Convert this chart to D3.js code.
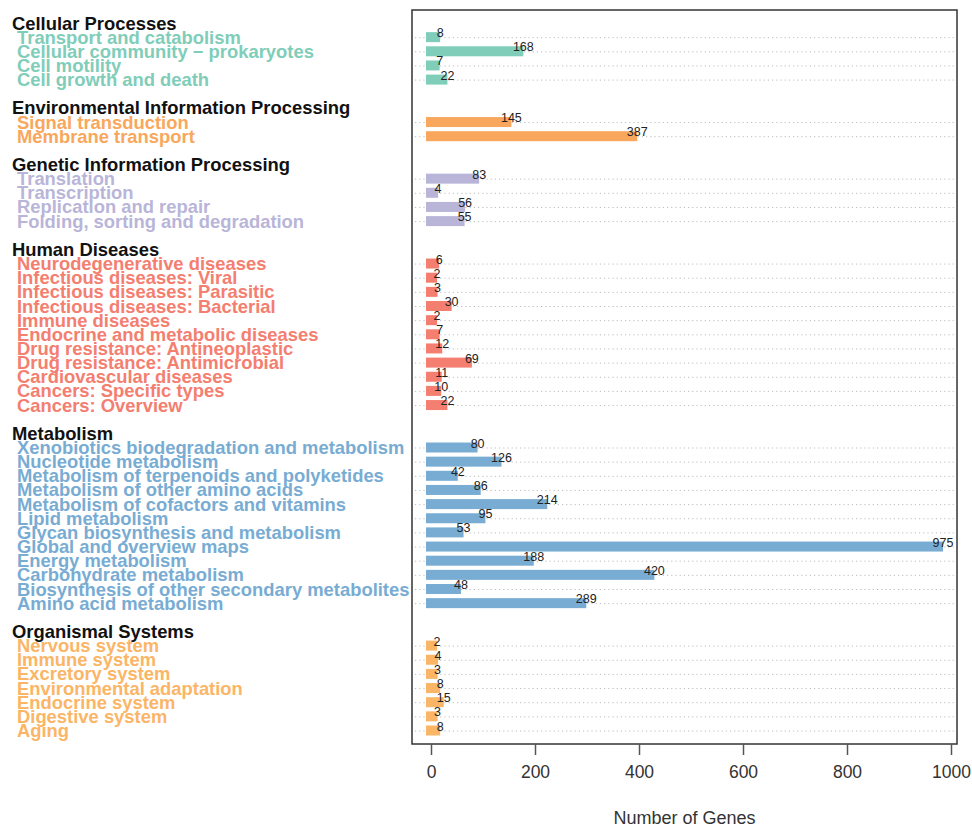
<!DOCTYPE html>
<html>
<head>
<meta charset="utf-8">
<script src="https://cdn.jsdelivr.net/npm/d3@7"></script>
<style>
  html, body { margin: 0; padding: 0; background: #fff; }
  svg { display: block; font-family: "Liberation Sans", Arial, sans-serif; }
</style>
</head>
<body>
<svg id="chart" width="972" height="827"></svg>
<script>
// KEGG pathway classes (level 1) and their level-2 categories with gene counts
const groupNames = [
  "Cellular Processes",
  "Environmental Information Processing",
  "Genetic Information Processing",
  "Human Diseases",
  "Metabolism",
  "Organismal Systems"
];

const cellularCategories = ["Transport and catabolism", "Cellular community \u2212 prokaryotes", "Cell motility", "Cell growth and death"];
const cellularValues = [8, 168, 7, 22];

const environmentalCategories = ["Signal transduction", "Membrane transport"];
const environmentalValues = [145, 387];

const geneticCategories = ["Translation", "Transcription", "Replication and repair", "Folding, sorting and degradation"];
const geneticValues = [83, 4, 56, 55];

const diseaseCategories = [
  "Neurodegenerative diseases", "Infectious diseases: Viral", "Infectious diseases: Parasitic",
  "Infectious diseases: Bacterial", "Immune diseases", "Endocrine and metabolic diseases",
  "Drug resistance: Antineoplastic", "Drug resistance: Antimicrobial", "Cardiovascular diseases",
  "Cancers: Specific types", "Cancers: Overview"
];
const diseaseValues = [6, 2, 3, 30, 2, 7, 12, 69, 11, 10, 22];

const metabolismCategories = [
  "Xenobiotics biodegradation and metabolism", "Nucleotide metabolism",
  "Metabolism of terpenoids and polyketides", "Metabolism of other amino acids",
  "Metabolism of cofactors and vitamins", "Lipid metabolism",
  "Glycan biosynthesis and metabolism", "Global and overview maps", "Energy metabolism",
  "Carbohydrate metabolism", "Biosynthesis of other secondary metabolites", "Amino acid metabolism"
];
const metabolismValues = [80, 126, 42, 86, 214, 95, 53, 975, 188, 420, 48, 289];

const organismalCategories = [
  "Nervous system", "Immune system", "Excretory system", "Environmental adaptation",
  "Endocrine system", "Digestive system", "Aging"
];
const organismalValues = [2, 4, 3, 8, 15, 3, 8];

const groupColors = ["#80cdb9", "#f9a75c", "#b9b5d9", "#f47e70", "#78acd3", "#fbb566"];
const xTicks = [0, 200, 400, 600, 800, 1000];
const xLabel = "Number of Genes";

const groupCategories = [cellularCategories, environmentalCategories, geneticCategories,
                         diseaseCategories, metabolismCategories, organismalCategories];
const groupValues = [cellularValues, environmentalValues, geneticValues,
                     diseaseValues, metabolismValues, organismalValues];

// Lay out rows: each group takes a header slot, one slot per category, then a blank slot
const headers = [];
const rows = [];
let slot = 0;
groupNames.forEach((g, gi) => {
  headers.push({ name: g, slot: slot, gi: gi });
  slot++;
  groupCategories[gi].forEach((c, ci) => {
    rows.push({ name: c, value: groupValues[gi][ci], slot: slot, gi: gi });
    slot++;
  });
  slot++;
});
const lastSlot = slot - 2;

const svg = d3.select("#chart");

const box = { left: 412, right: 957, top: 10, bottom: 744 };

const x = d3.scaleLinear().domain([0, 1000]).range([431, 951]);
const y = d3.scaleLinear().domain([0, lastSlot]).range([23, 730.5]);

const barH = 10;
const barPad = 5;
const labelFont = 18.4;

// dotted guide lines for each category row
svg.append("g")
  .selectAll("line")
  .data(rows)
  .join("line")
  .attr("x1", box.left + 3)
  .attr("x2", box.right - 2)
  .attr("y1", d => y(d.slot) + 0.5)
  .attr("y2", d => y(d.slot) + 0.5)
  .attr("stroke", "#bdbdbd")
  .attr("stroke-width", 1)
  .attr("stroke-dasharray", "1.2,3");

// bars
svg.append("g")
  .selectAll("rect")
  .data(rows)
  .join("rect")
  .attr("x", x(0) - barPad)
  .attr("y", d => y(d.slot) - barH / 2)
  .attr("width", d => x(d.value) - x(0) + 2 * barPad)
  .attr("height", barH)
  .attr("fill", d => groupColors[d.gi]);

// value labels at bar ends
svg.append("g")
  .selectAll("text")
  .data(rows)
  .join("text")
  .attr("x", d => x(d.value) + barPad)
  .attr("y", d => y(d.slot) - 4)
  .attr("text-anchor", "middle")
  .attr("dominant-baseline", "central")
  .attr("font-size", 12.5)
  .attr("fill", "#222")
  .text(d => d.value);

// plot frame
svg.append("rect")
  .attr("x", box.left)
  .attr("y", box.top)
  .attr("width", box.right - box.left)
  .attr("height", box.bottom - box.top)
  .attr("fill", "none")
  .attr("stroke", "#333")
  .attr("stroke-width", 1.5);

// x axis
const axis = d3.axisBottom(x).tickValues(xTicks).tickSize(11).tickPadding(11).tickFormat(d3.format("d"));
const gx = svg.append("g")
  .attr("transform", `translate(0,${box.bottom})`)
  .call(axis);
gx.select(".domain").remove();
gx.selectAll(".tick line").attr("stroke", "#555").attr("stroke-width", 1.5);
gx.selectAll(".tick text")
  .attr("font-size", 17.5)
  .attr("fill", "#333")
  .attr("font-family", "'Liberation Sans', Arial, sans-serif");

svg.append("text")
  .attr("x", (box.left + box.right) / 2)
  .attr("y", 818)
  .attr("text-anchor", "middle")
  .attr("dominant-baseline", "central")
  .attr("font-size", 18)
  .attr("fill", "#333")
  .text(xLabel);

// group headers
svg.append("g")
  .selectAll("text")
  .data(headers)
  .join("text")
  .attr("x", 12)
  .attr("y", d => y(d.slot))
  .attr("dominant-baseline", "central")
  .attr("font-size", labelFont)
  .attr("font-weight", "bold")
  .attr("fill", "#111")
  .text(d => d.name);

// category labels
svg.append("g")
  .selectAll("text")
  .data(rows)
  .join("text")
  .attr("x", 17)
  .attr("y", d => y(d.slot))
  .attr("dominant-baseline", "central")
  .attr("font-size", labelFont)
  .attr("font-weight", "bold")
  .attr("fill", d => groupColors[d.gi])
  .text(d => d.name);
</script>
</body>
</html>
